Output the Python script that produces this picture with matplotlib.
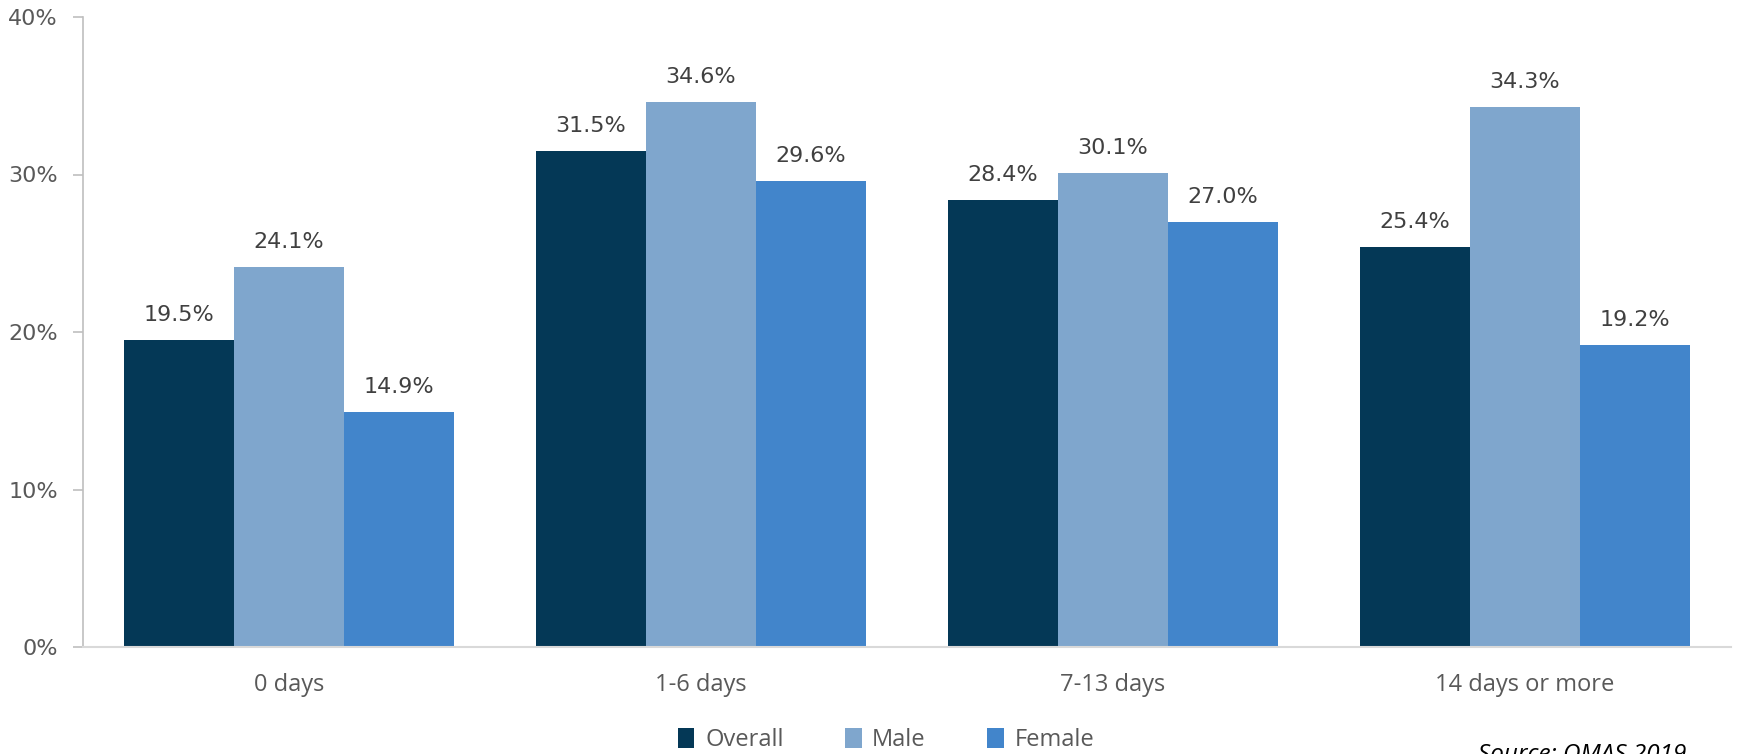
import matplotlib
matplotlib.use("Agg")
import matplotlib.pyplot as plt
from matplotlib.patches import Patch
import numpy as np

categories = ["0 days", "1-6 days", "7-13 days", "14 days or more"]
series_names = ["Overall", "Male", "Female"]
overall = [19.5, 31.5, 28.4, 25.4]
male = [24.1, 34.6, 30.1, 34.3]
female = [14.9, 29.6, 27.0, 19.2]
yticks = [0, 10, 20, 30, 40]
source_text = "Source: QMAS 2019"

colors = ["#043856", "#7FA6CD", "#4285CB"]
series = [overall, male, female]

fig = plt.figure(figsize=(17.37, 7.54), dpi=100)
ax = fig.add_axes([83 / 1737, 107 / 754, (1731 - 83) / 1737, (647 - 17) / 754])

x = np.arange(len(categories))
w = 0.2667
for i, (vals, c, name) in enumerate(zip(series, colors, series_names)):
    pos = x + (i - 1) * w
    ax.bar(pos, vals, width=w, color=c, label=name, zorder=2)
    for xp, v in zip(pos, vals):
        ax.annotate(f"{v:.1f}%", (xp, v), xytext=(0, 18), textcoords="offset points",
                    ha="center", va="center", fontsize=16, color="#404040",
                    family="DejaVu Sans")

ax.set_xlim(-0.5, 3.5)
ax.set_ylim(0, 40)
ax.set_yticks(yticks)
ax.set_yticklabels([f"{t}%" for t in yticks], fontsize=16, color="#595959",
                   family="DejaVu Sans")
ax.tick_params(axis="y", length=7, width=1.2, color="#BFBFBF", pad=11)
ax.set_xticks(x)
ax.set_xticklabels(categories, fontsize=17, color="#595959", family="Open Sans")
ax.tick_params(axis="x", length=0, pad=19)

for s in ["top", "right"]:
    ax.spines[s].set_visible(False)
ax.spines["left"].set_color("#BFBFBF")
ax.spines["left"].set_linewidth(1.2)
ax.spines["bottom"].set_color("#D9D9D9")
ax.spines["bottom"].set_linewidth(1.5)

handles = [Patch(facecolor=c, edgecolor="none") for c in colors]
fig.legend(handles, series_names, loc="center", bbox_to_anchor=(886 / 1737, 1 - 740 / 754),
           ncol=3, frameon=False, prop={"family": "Open Sans", "size": 17},
           labelcolor="#595959", handlelength=0.7, handleheight=0.9,
           handletextpad=0.45, columnspacing=2.6)

fig.text(1478 / 1737, 1 - 743 / 754, source_text, ha="left", va="top",
         fontsize=17.5, style="italic", color="#000000", family="Open Sans")

fig.savefig("out.png", dpi=100)
